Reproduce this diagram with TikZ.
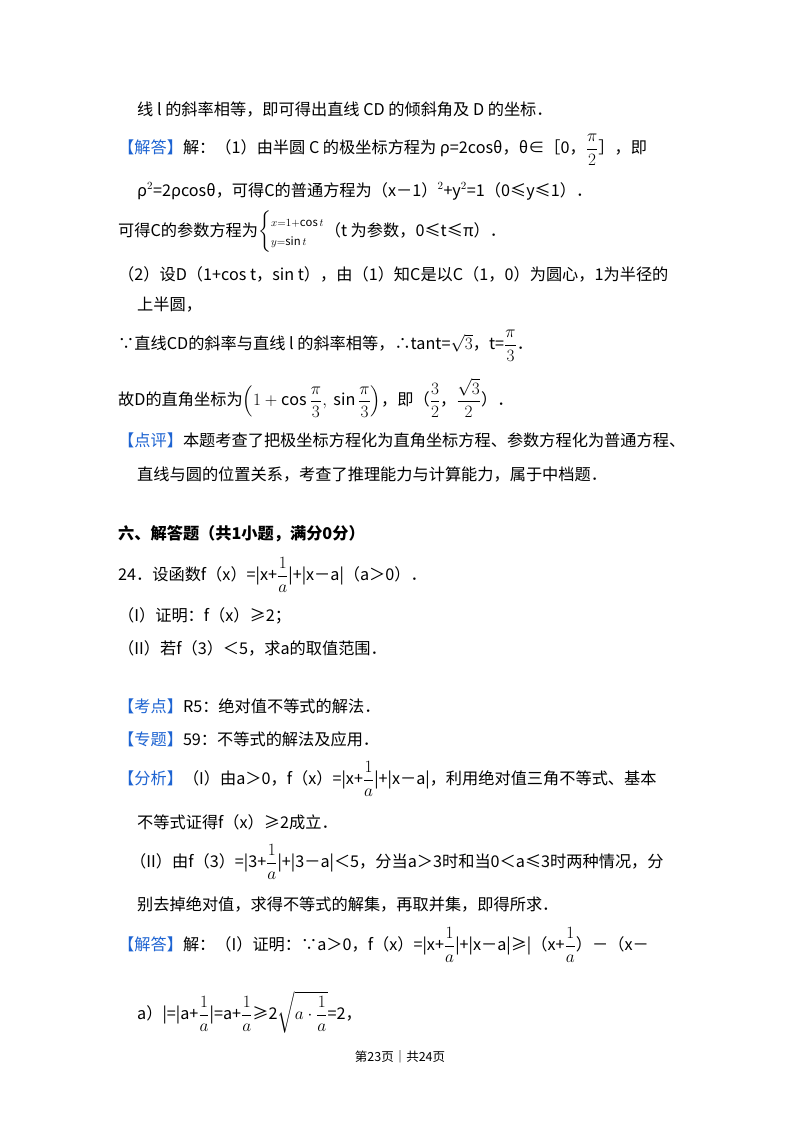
\documentclass[tikz,border=0pt]{standalone}
\usepackage{fontspec}
\usepackage{amsmath}
\setmainfont{Noto Sans CJK SC}
\definecolor{tagblue}{RGB}{30,100,210}
\newcommand{\tg}[1]{\textcolor{tagblue}{#1}}
\begin{document}
\begin{tikzpicture}[x=1pt,y=1pt,
  line/.style={anchor=west,inner sep=0pt,font=\fontsize{16.2}{19}\selectfont}]
\fill[white] (0,0) rectangle (800,-1133);
\useasboundingbox (0,0) rectangle (800,-1133);
\node[line] (l1) at (137,-110) {线 l 的斜率相等，即可得出直线 CD 的倾斜角及 D 的坐标．};
\node[line] (l2) at (118,-150) {\tg{【解答】}解：（1）由半圆 C 的极坐标方程为 ρ=2cosθ，θ∈［0，$\displaystyle\frac{\pi}{2}$］，即};
\node[line] (l3) at (137,-191) {ρ$^2$=2ρcosθ，可得C的普通方程为（x－1）$^2$+y$^2$=1（0≤y≤1）．};
\node[line] (l4) at (118,-232) {可得C的参数方程为$\left\{\begin{array}{@{}l@{}}\scriptstyle x=1+\cos t\\ \scriptstyle y=\sin t\end{array}\right.$（t 为参数，0≤t≤π）．};
\node[line] (l5) at (118,-274) {（2）设D（1+cos t，sin t），由（1）知C是以C（1，0）为圆心，1为半径的};
\node[line] (l6) at (137,-305) {上半圆，};
\node[line] (l7) at (118,-346) {∵直线CD的斜率与直线 l 的斜率相等，∴tant=$\sqrt{3}$，t=$\displaystyle\frac{\pi}{3}$．};
\node[line] (l8) at (118,-398) {故D的直角坐标为$\displaystyle\left(1+\cos\frac{\pi}{3},\ \sin\frac{\pi}{3}\right)$，即（$\displaystyle\frac{3}{2}$，$\displaystyle\frac{\sqrt{3}}{2}$）．};
\node[line] (l9) at (118,-440) {\tg{【点评】}本题考查了把极坐标方程化为直角坐标方程、参数方程化为普通方程、};
\node[line] (l10) at (137,-474) {直线与圆的位置关系，考查了推理能力与计算能力，属于中档题．};
\node[line,font=\fontsize{16.2}{19}\selectfont\bfseries] (l11) at (118,-534) {六、解答题（共1小题，满分0分）};
\node[line] (l12) at (118,-575) {24．设函数f（x）=|x+$\displaystyle\frac{1}{a}$|+|x－a|（a＞0）．};
\node[line] (l13) at (118,-616) {（I）证明：f（x）≥2；};
\node[line] (l14) at (118,-648) {（II）若f（3）＜5，求a的取值范围．};
\node[line] (l15) at (118,-706) {\tg{【考点】}R5：绝对值不等式的解法．};
\node[line] (l16) at (118,-739) {\tg{【专题】}59：不等式的解法及应用．};
\node[line] (l17) at (118,-779) {\tg{【分析】}（I）由a＞0，f（x）=|x+$\displaystyle\frac{1}{a}$|+|x－a|，利用绝对值三角不等式、基本};
\node[line] (l18) at (137,-822) {不等式证得f（x）≥2成立．};
\node[line] (l19) at (130,-862) {（II）由f（3）=|3+$\displaystyle\frac{1}{a}$|+|3－a|＜5，分当a＞3时和当0＜a≤3时两种情况，分};
\node[line] (l20) at (137,-904) {别去掉绝对值，求得不等式的解集，再取并集，即得所求．};
\node[line] (l21) at (118,-945) {\tg{【解答】}解：（I）证明：∵a＞0，f（x）=|x+$\displaystyle\frac{1}{a}$|+|x－a|≥|（x+$\displaystyle\frac{1}{a}$）－（x－};
\node[line] (l22) at (137,-1012) {a）|=|a+$\displaystyle\frac{1}{a}$|=a+$\displaystyle\frac{1}{a}$≥2$\displaystyle\sqrt{a\cdot\frac{1}{a}}$=2，};
\node[anchor=center,inner sep=0pt,font=\fontsize{12.5}{14}\selectfont] (ft) at (400,-1057) {第23页｜共24页};
\end{tikzpicture}
\end{document}
